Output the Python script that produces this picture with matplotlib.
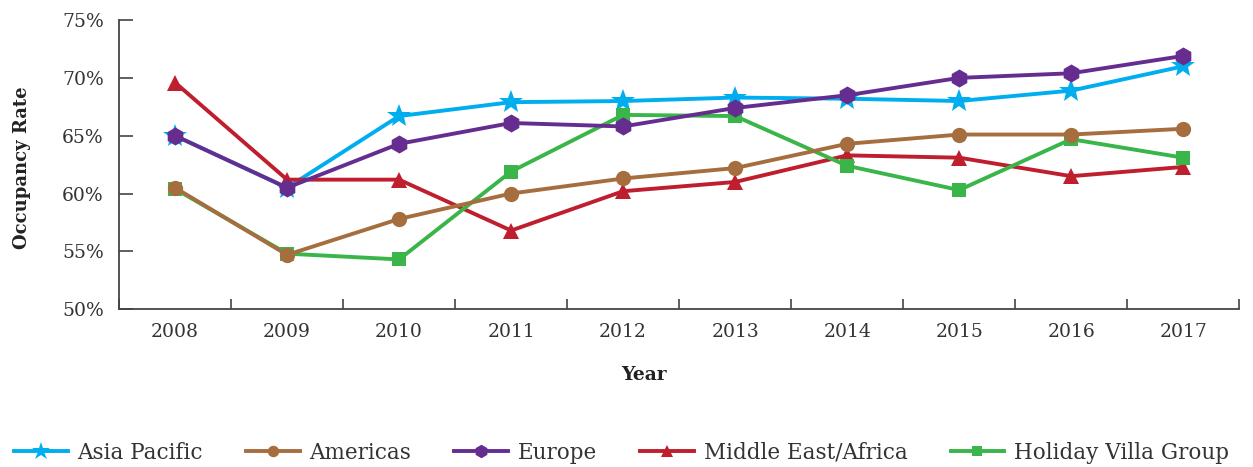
import numpy as np
import matplotlib.pyplot as plt

plt.rcParams['font.family'] = ['DejaVu Serif']
plt.rcParams['text.color'] = '#333333'
plt.rcParams['axes.labelcolor'] = '#222222'
plt.rcParams['xtick.labelcolor'] = '#333333'
plt.rcParams['ytick.labelcolor'] = '#333333'

years = ['2008', '2009', '2010', '2011', '2012', '2013', '2014', '2015', '2016', '2017']

asia_pacific = [65.0, 60.5, 66.7, 67.9, 68.0, 68.3, 68.2, 68.0, 68.9, 71.0]
americas = [60.5, 54.7, 57.8, 60.0, 61.3, 62.2, 64.3, 65.1, 65.1, 65.6]
europe = [65.0, 60.5, 64.3, 66.1, 65.8, 67.4, 68.5, 70.0, 70.4, 71.9]
middle_east = [69.6, 61.2, 61.2, 56.8, 60.2, 61.0, 63.3, 63.1, 61.5, 62.3]
holiday_villa = [60.4, 54.8, 54.3, 61.9, 66.8, 66.7, 62.4, 60.3, 64.7, 63.1]

fig = plt.figure(figsize=(12.53, 4.67), dpi=100)
ax = fig.add_axes([0.095, 0.338, 0.894, 0.619])

x = np.arange(len(years))

# (label, values, colour, marker, marker size, zorder)
series = [
    ('Asia Pacific', asia_pacific, '#00AEEF', '*', 18, 3),
    ('Americas', americas, '#A66E3F', 'o', 11, 6),
    ('Europe', europe, '#662D91', 'h', 13, 7),
    ('Middle East/Africa', middle_east, '#BE1E2D', '^', 12, 4),
    ('Holiday Villa Group', holiday_villa, '#39B54A', 's', 10, 5),
]

for name, vals, col, mk, ms, z in series:
    ax.plot(x, vals, color=col, lw=2.8, marker=mk, markersize=ms,
            markeredgewidth=0, label=name, zorder=z)

ax.set_xlim(-0.5, len(years) - 0.5)
ax.set_ylim(50, 75)
ax.set_yticks(np.arange(50, 76, 5))
ax.set_yticklabels(['%d%%' % v for v in range(50, 76, 5)])

# category labels centred, ticks on the boundaries
ax.set_xticks(x)
ax.set_xticklabels(years)
ax.set_xticks(np.arange(-0.5, len(years), 1), minor=True)
ax.tick_params(axis='x', which='major', length=0, pad=10, labelsize=13.5)
ax.tick_params(axis='x', which='minor', direction='in', length=7, width=1.2, color='#444444')
ax.tick_params(axis='y', direction='in', length=10, width=1.2, color='#444444', pad=11,
               labelsize=13.5)

for s in ['top', 'right']:
    ax.spines[s].set_visible(False)
for s in ['left', 'bottom']:
    ax.spines[s].set_color('#444444')
    ax.spines[s].set_linewidth(1.3)

ax.set_ylabel('Occupancy Rate', fontsize=13, fontweight='bold')
ax.set_xlabel('Year', fontsize=13.5, fontweight='bold')
ax.yaxis.set_label_coords(-0.079, 0.49)
ax.xaxis.set_label_coords(0.469, -0.195)

fig.legend(loc='center', bbox_to_anchor=(0.496, 0.03), ncol=5, frameon=False,
           fontsize=15.5, handlelength=2.5, columnspacing=2.0, handletextpad=0.45,
           markerscale=0.75)

plt.savefig('out.png', dpi=100)
